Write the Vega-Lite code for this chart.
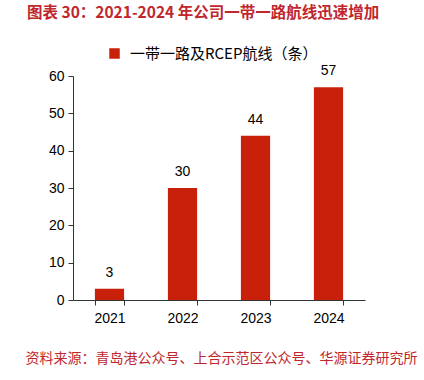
{
  "$schema": "https://vega.github.io/schema/vega-lite/v6.json",
  "autosize": "none",
  "width": 292,
  "height": 224,
  "padding": {"left": 73, "top": 76, "right": 59, "bottom": 80},
  "background": "white",
  "title": {
    "text": "图表 30：2021-2024 年公司一带一路航线迅速增加",
    "anchor": "start",
    "frame": "group",
    "font": "Noto Sans CJK SC",
    "fontSize": 15.5,
    "fontWeight": "bold",
    "color": "#c0272d",
    "dx": -46,
    "offset": 25
  },
  "data": {
    "values": [
      {"year": "2021", "value": 3, "series": "一带一路及RCEP航线（条）"},
      {"year": "2022", "value": 30, "series": "一带一路及RCEP航线（条）"},
      {"year": "2023", "value": 44, "series": "一带一路及RCEP航线（条）"},
      {"year": "2024", "value": 57, "series": "一带一路及RCEP航线（条）"}
    ]
  },
  "encoding": {
    "x": {
      "field": "year",
      "type": "nominal",
      "scale": {"paddingInner": 0.6, "paddingOuter": 0.3},
      "axis": {
        "title": "资料来源：青岛港公众号、上合示范区公众号、华源证券研究所",
        "titleFont": "Noto Sans CJK SC",
        "titleFontSize": 14,
        "titleFontWeight": "normal",
        "titleColor": "#c0272d",
        "titleAnchor": "start",
        "titleAlign": "left",
        "titleX": -48,
        "titleY": 51,
        "labelAngle": 0,
        "labelFont": "Liberation Sans",
        "labelFontSize": 14,
        "labelColor": "#000000",
        "labelPadding": 6,
        "domainColor": "#333333",
        "tickColor": "#333333",
        "tickBand": "extent",
        "tickSize": 5,
        "domainWidth": 1
      }
    },
    "y": {
      "field": "value",
      "type": "quantitative",
      "scale": {"domain": [0, 60]},
      "axis": {
        "title": null,
        "values": [0, 10, 20, 30, 40, 50, 60],
        "grid": false,
        "labelFont": "Liberation Sans",
        "labelFontSize": 14,
        "labelColor": "#000000",
        "labelPadding": 4,
        "domainColor": "#333333",
        "tickColor": "#333333",
        "tickSize": 5
      }
    }
  },
  "layer": [
    {
      "mark": {"type": "bar", "color": "#c8200a"},
      "encoding": {
        "color": {
          "field": "series",
          "type": "nominal",
          "scale": {"range": ["#c8200a"]},
          "legend": {
            "title": null,
            "orient": "none",
            "legendX": 34,
            "legendY": -30,
            "symbolType": "square",
            "symbolSize": 110,
            "labelFont": "Noto Sans CJK SC",
            "labelFontSize": 15,
            "labelColor": "#000000",
            "labelOffset": 8,
            "labelLimit": 0
          }
        }
      }
    },
    {
      "mark": {"type": "text", "dy": -16, "font": "Liberation Sans", "fontSize": 14, "color": "#000000"},
      "encoding": {"text": {"field": "value", "type": "quantitative"}}
    }
  ],
  "view": {"stroke": null}
}
